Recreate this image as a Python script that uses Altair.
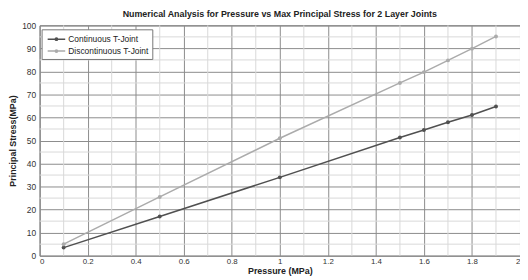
import altair as alt
import pandas as pd

pressure = [0.1, 0.5, 1.0, 1.5, 1.6, 1.7, 1.8, 1.9]
continuous = [3.5, 17.0, 34.0, 51.3, 54.6, 57.9, 61.1, 64.8]
discontinuous = [5.0, 25.5, 51.0, 75.0, 79.7, 84.8, 89.9, 95.2]
series_names = ["Continuous T-Joint", "Discontinuous T-Joint"]
colors = ["#505050", "#ababab"]
x_major = [0, 0.2, 0.4, 0.6, 0.8, 1, 1.2, 1.4, 1.6, 1.8, 2]
x_minor = [0.1, 0.3, 0.5, 0.7, 0.9, 1.1, 1.3, 1.5, 1.7, 1.9]
y_major = [0, 10, 20, 30, 40, 50, 60, 70, 80, 90, 100]
y_minor = [5, 15, 25, 35, 45, 55, 65, 75, 85, 95]

rows = []
for p, c, d in zip(pressure, continuous, discontinuous):
    rows.append({"p": p, "s": c, "series": series_names[0]})
    rows.append({"p": p, "s": d, "series": series_names[1]})
df = pd.DataFrame(rows)

xs = alt.Scale(domain=[0, 2], nice=False, zero=False)
ys = alt.Scale(domain=[0, 100], nice=False, zero=False)

x_axis = alt.Axis(values=x_major, format="~g", grid=True, gridColor="#8c8c8c", gridWidth=1,
                  ticks=False, labelFontSize=8, labelColor="#333", labelOverlap=False,
                  titleFontSize=9, titleFontWeight="bold", titleColor="#222",
                  titlePadding=1, labelPadding=2, domain=False)
y_axis = alt.Axis(values=y_major, grid=True, gridColor="#8c8c8c", gridWidth=1,
                  ticks=False, labelFontSize=8.5, labelColor="#333", labelOverlap=False,
                  labelPadding=4,
                  titleFontSize=9, titleFontWeight="bold", titleColor="#222",
                  titlePadding=4, domain=False)

minor_x = alt.Chart(pd.DataFrame({"v": x_minor})).mark_rule(color="#d9d9d9", strokeWidth=1).encode(
    x=alt.X("v:Q", scale=xs, axis=None))
minor_y = alt.Chart(pd.DataFrame({"v": y_minor})).mark_rule(color="#d9d9d9", strokeWidth=1).encode(
    y=alt.Y("v:Q", scale=ys, axis=None))

lines = alt.Chart(df).mark_line(strokeWidth=1.5, point=alt.OverlayMarkDef(size=16, filled=True)).encode(
    x=alt.X("p:Q", scale=xs, title="Pressure (MPa)", axis=x_axis),
    y=alt.Y("s:Q", scale=ys, title="Principal Stress(MPa)", axis=y_axis),
    color=alt.Color("series:N", scale=alt.Scale(domain=series_names, range=colors),
                    legend=alt.Legend(title=None, orient="none", legendX=2, legendY=4,
                                      symbolType="M-1.5,0H1.5M-0.2,0a0.2,0.2 0 1,0 0.4,0a0.2,0.2 0 1,0 -0.4,0",
                                      symbolSize=140, symbolStrokeWidth=1.5,
                                      labelFontSize=8.5, labelColor="#222", rowPadding=0,
                                      padding=3, strokeColor="#777", fillColor="white",
                                      symbolOffset=5, labelOffset=5)),
)

chart = alt.layer(minor_x, minor_y, lines).resolve_axis(x="independent", y="independent").properties(
    width=486, height=233,
    title=alt.TitleParams("Numerical Analysis for Pressure vs Max Principal Stress for 2 Layer Joints",
                          fontSize=9, fontWeight="bold", color="#222", offset=2, frame="group",
                          font="Liberation Sans"),
    autosize=alt.AutoSizeParams(type="none"),
    padding={"left": 32, "top": 16, "right": 0, "bottom": 20},
).configure(font="Liberation Sans").configure_view(stroke="#666", strokeWidth=1)

chart.save("out.html", embed_options={"renderer": "svg", "actions": False})
